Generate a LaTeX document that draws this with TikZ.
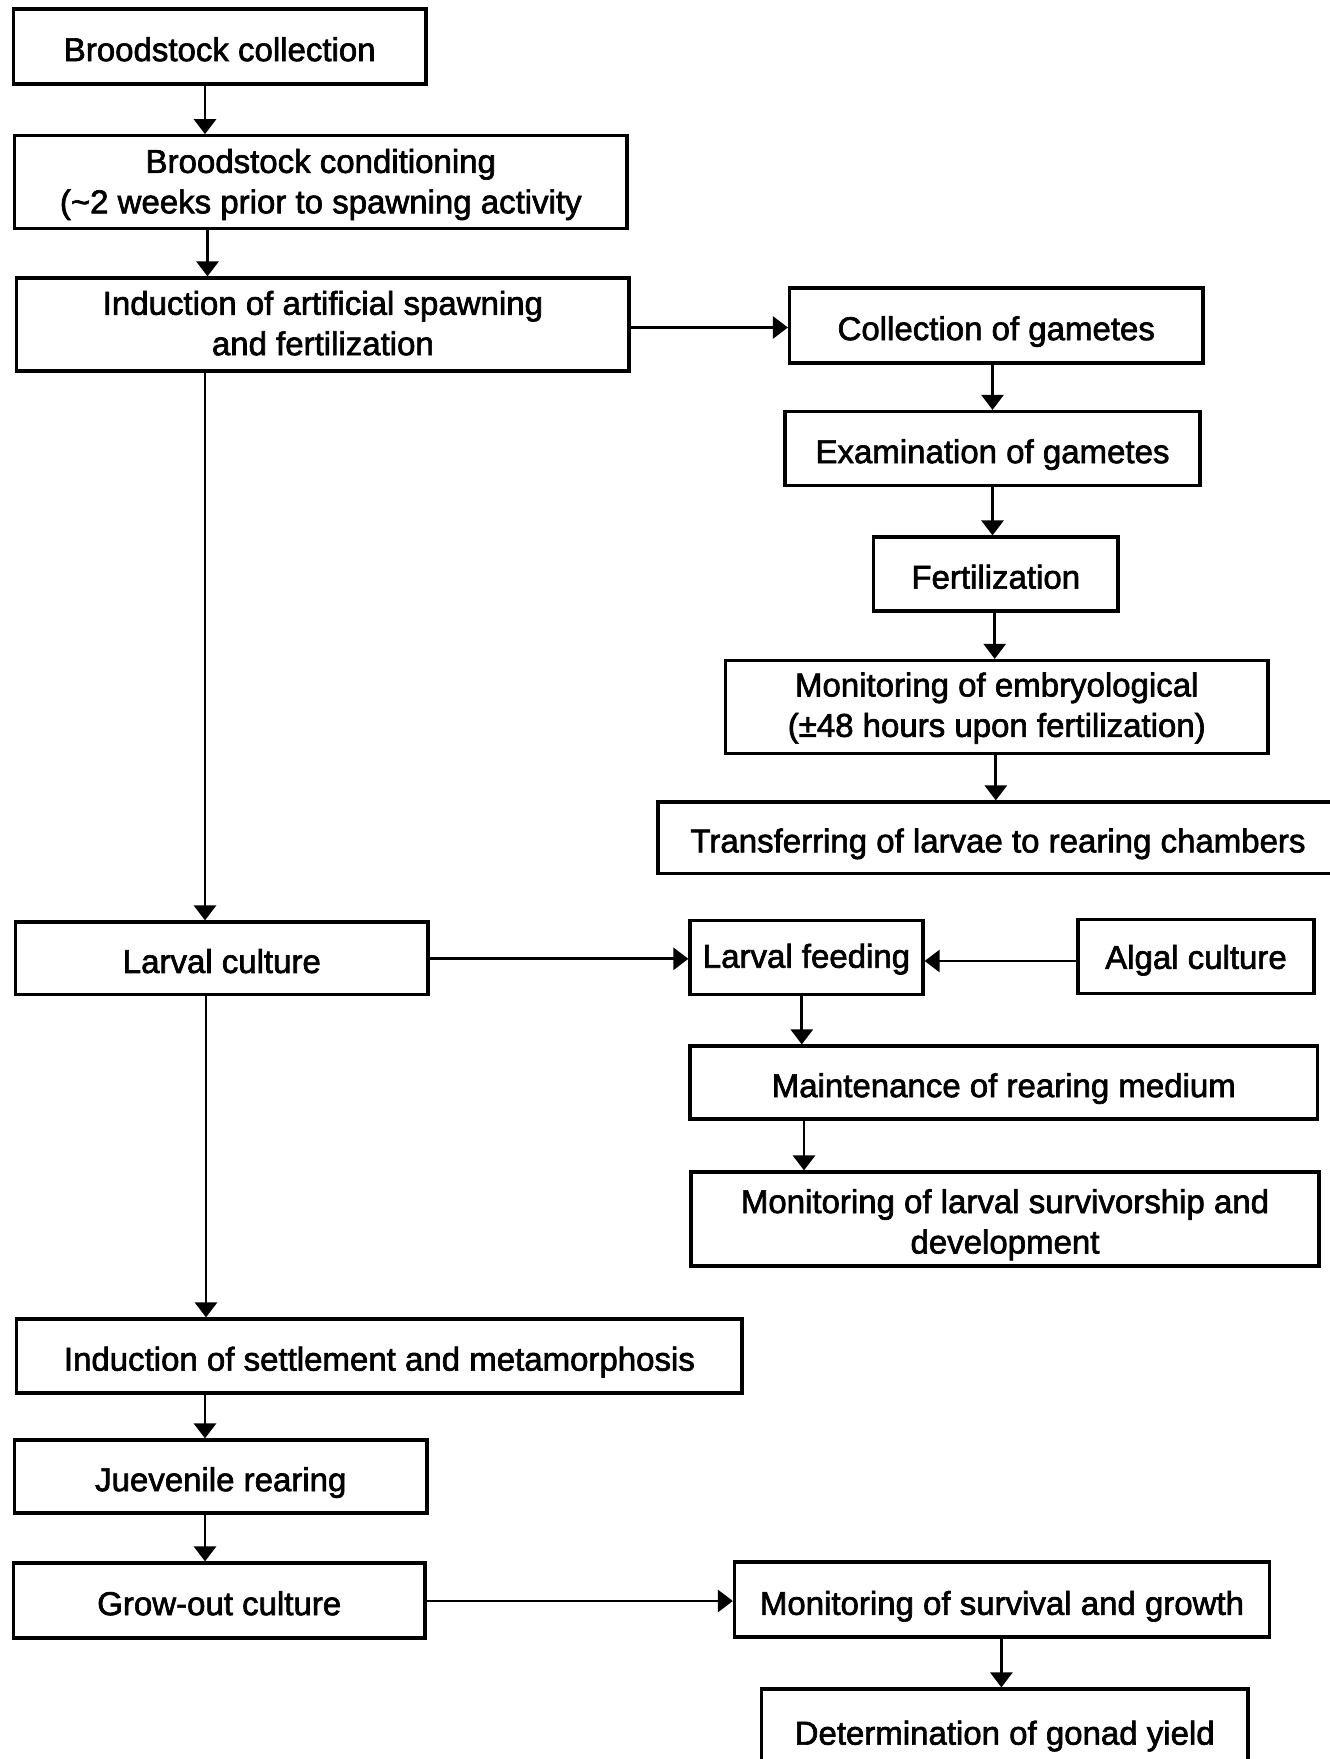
\documentclass[tikz,border=0pt]{standalone}
\usepackage{fontspec}
\setmainfont{Liberation Sans}[FakeBold=2]
\usetikzlibrary{arrows.meta,calc}
\newcommand\mystrut[1]{\rule[-8.25pt]{0pt}{\dimexpr 40.1pt+#1pt+#1pt\relax}}
\newcommand\topstrut[1]{\rule{0pt}{\dimexpr 24.1pt+#1pt+#1pt\relax}}
\newcommand\botstrut[1]{\rule[\dimexpr -#1pt-#1pt\relax]{0pt}{0pt}}
\begin{document}
\begin{tikzpicture}[x=1pt,y=-1pt,
  box/.style={draw,line width=3.2pt,inner sep=0pt,align=center,fill=white,
    font=\fontsize{33}{40.4}\selectfont},
  one/.style={execute at begin node={\mystrut{#1}}},
  one/.default=2.8,
  arr/.style={line width=2.8pt,-{Triangle[length=15pt,width=22pt]}}]
\useasboundingbox (0,0) rectangle (1330,1759);
\fill[white] (0,0) rectangle (1330,1759);
% left column
\node[box,one,minimum width=412.5pt,minimum height=75pt] (b1) at (219.75,46.5) {Broodstock collection};
\node[box,minimum width=612.4pt,minimum height=93pt] (b2) at (320.8,182.25) {\topstrut{2.2}Broodstock conditioning\\(\textasciitilde2 weeks prior to spawning activity};
\node[box,minimum width=612.2pt,minimum height=93pt] (b3) at (322.9,324.5) {Induction of artificial spawning\\and fertilization\botstrut{1.5}};
\node[box,one,minimum width=412.3pt,minimum height=72.7pt] (b9) at (221.85,958.35) {Larval culture};
\node[box,one,minimum width=725.2pt,minimum height=74pt] (b14) at (379.4,1356) {Induction of settlement and metamorphosis};
\node[box,one,minimum width=412.4pt,minimum height=73pt] (b15) at (220.8,1476.5) {Juevenile rearing};
\node[box,one,minimum width=411.5pt,minimum height=75pt] (b16) at (219.25,1600.5) {Grow-out culture};
% right column
\node[box,one,minimum width=413.5pt,minimum height=75pt] (b4) at (996.25,325.5) {Collection of gametes};
\node[box,one,minimum width=415pt,minimum height=74pt] (b5) at (992.5,448.5) {Examination of gametes};
\node[box,one,minimum width=244.5pt,minimum height=74pt] (b6) at (995.75,574) {Fertilization};
\node[box,minimum width=542.5pt,minimum height=93pt] (b7) at (996.75,707) {\topstrut{1}Monitoring of embryological\\(±48 hours upon fertilization)};
\node[box,one,minimum width=680pt,minimum height=71.6pt] (b8) at (998,837.8) {Transferring of larvae to rearing chambers};
\node[box,one=-1.8,minimum width=233pt,minimum height=74pt] (b10) at (806.5,957.7) {Larval feeding};
\node[box,one=0.5,minimum width=236pt,minimum height=74pt] (b11) at (1196,956.5) {Algal culture};
\node[box,one,minimum width=627.6pt,minimum height=73pt] (b12) at (1003.8,1082.5) {Maintenance of rearing medium};
\node[box,minimum width=628pt,minimum height=94pt] (b13) at (1005,1219) {\topstrut{5.6}Monitoring of larval survivorship and\\development};
\node[box,one=3.5,minimum width=535pt,minimum height=75pt] (b17) at (1002,1599.5) {Monitoring of survival and growth};
\node[box,one,minimum width=486.6pt,minimum height=82pt] (b18) at (1004.7,1730) {Determination of gonad yield};
% connector guide coordinates
\coordinate (x12) at (205,0);
\coordinate (x23) at (207.5,0);
\coordinate (x39) at (205,0);
\coordinate (y34) at (0,327.5);
\coordinate (x45) at (992.5,0);
\coordinate (x56) at (992.5,0);
\coordinate (x67) at (994.7,0);
\coordinate (x78) at (995.8,0);
\coordinate (y910) at (0,958.8);
\coordinate (y1110) at (0,961);
\coordinate (x1012) at (801.8,0);
\coordinate (x1213) at (804,0);
\coordinate (x914) at (206,0);
\coordinate (x1415) at (205,0);
\coordinate (x1516) at (205,0);
\coordinate (y1617) at (0,1601);
\coordinate (x1718) at (1001.4,0);
% connectors
\draw[arr] (b1.south -| x12) -- (b2.north -| x12);
\draw[arr] (b2.south -| x23) -- (b3.north -| x23);
\draw[arr] (b3.east |- y34) -- (b4.west |- y34);
\draw[arr] (b3.south -| x39) -- (b9.north -| x39);
\draw[arr] (b4.south -| x45) -- (b5.north -| x45);
\draw[arr] (b5.south -| x56) -- (b6.north -| x56);
\draw[arr] (b6.south -| x67) -- (b7.north -| x67);
\draw[arr] (b7.south -| x78) -- (b8.north -| x78);
\draw[arr] (b9.east |- y910) -- (b10.west |- y910);
\draw[arr] (b11.west |- y1110) -- (b10.east |- y1110);
\draw[arr] (b10.south -| x1012) -- (b12.north -| x1012);
\draw[arr] (b12.south -| x1213) -- (b13.north -| x1213);
\draw[arr] (b9.south -| x914) -- (b14.north -| x914);
\draw[arr] (b14.south -| x1415) -- (b15.north -| x1415);
\draw[arr] (b15.south -| x1516) -- (b16.north -| x1516);
\draw[arr] (b16.east |- y1617) -- (b17.west |- y1617);
\draw[arr] (b17.south -| x1718) -- (b18.north -| x1718);
\end{tikzpicture}
\end{document}
